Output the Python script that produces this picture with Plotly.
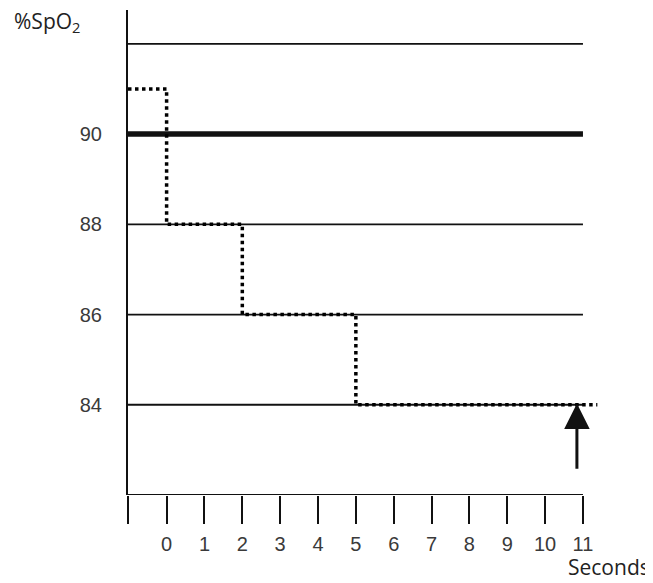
from plotly import graph_objects as go

# Reference levels (% SpO2) drawn as horizontal rules
LEVELS = [84, 86, 88, 92]
ALARM_LEVEL = 90
AXIS_FLOOR = 82
AXIS_TOP = 92.75

# Step trace of the SpO2 reading over time
STEP_TIMES = [-1.02, 0, 2, 5, 11.38]
STEP_VALUES = [91, 88, 86, 84, 84]

# Axis ticks
X_START = -1.02
X_END = 11
X_TICKS = [X_START] + list(range(0, 12))
X_TICK_TEXT = [""] + [str(i) for i in range(0, 12)]
Y_TICKS = [84, 86, 88, 90]

# Arrow marking the alarm moment
ARROW_TIME = 10.84
ARROW_FROM = 82.55
ARROW_TO = 84.03

BLACK = "#111111"
TEXT = "#222222"
TICK_TEXT = "#3a3a3a"

fig = go.Figure()

for level in LEVELS:
    fig.add_trace(
        go.Scatter(
            x=[X_START, X_END], y=[level, level], mode="lines",
            line=dict(color=BLACK, width=1.8), hoverinfo="skip",
        )
    )
fig.add_trace(
    go.Scatter(
        x=[X_START, X_END], y=[ALARM_LEVEL, ALARM_LEVEL], mode="lines",
        line=dict(color=BLACK, width=5.5), hoverinfo="skip",
    )
)
# bottom axis line, stops at 11
fig.add_trace(
    go.Scatter(
        x=[X_START, X_END], y=[AXIS_FLOOR, AXIS_FLOOR], mode="lines",
        line=dict(color=BLACK, width=2), hoverinfo="skip",
    )
)

fig.add_trace(
    go.Scatter(
        x=STEP_TIMES, y=STEP_VALUES, mode="lines", line_shape="hv",
        line=dict(color="black", width=3.5, dash="dot"), hoverinfo="skip",
    )
)

fig.add_annotation(
    x=ARROW_TIME, y=ARROW_TO, ax=ARROW_TIME, ay=ARROW_FROM,
    xref="x", yref="y", axref="x", ayref="y",
    showarrow=True, arrowhead=2, arrowsize=1.7, arrowwidth=3,
    arrowcolor=BLACK, text="",
)

fig.add_annotation(
    text="%SpO<sub>2</sub>", xref="paper", yref="paper",
    x=-0.2458, y=0.975, xanchor="left", yanchor="middle",
    showarrow=False, font=dict(family="Open Sans", size=21, color=TEXT),
)
fig.add_annotation(
    text="Seconds", xref="paper", yref="paper",
    x=1.11, y=-0.148, xanchor="right", yanchor="middle",
    showarrow=False, font=dict(family="Open Sans", size=21, color=TEXT),
)

fig.update_xaxes(
    range=[X_START, 11.45], showgrid=False, zeroline=False, showline=False,
    tickvals=X_TICKS, ticktext=X_TICK_TEXT, ticks="outside", ticklen=28,
    tickwidth=2, tickcolor=BLACK, ticklabelstandoff=3,
    tickfont=dict(family="Liberation Sans", size=20, color=TICK_TEXT),
)
fig.update_yaxes(
    range=[AXIS_FLOOR, AXIS_TOP], showgrid=False, zeroline=False,
    showline=True, linecolor=BLACK, linewidth=2,
    tickvals=Y_TICKS, ticks="outside", ticklen=20,
    tickcolor="rgba(0,0,0,0)",
    tickfont=dict(family="Liberation Sans", size=20, color=TICK_TEXT),
)
# page body adds an 8px offset, so the figure is 8px smaller on each side
fig.update_layout(
    width=645, height=575, showlegend=False,
    margin=dict(l=120, r=53, t=2, b=88),
    plot_bgcolor="white", paper_bgcolor="white",
)

fig.write_html("out.html")
